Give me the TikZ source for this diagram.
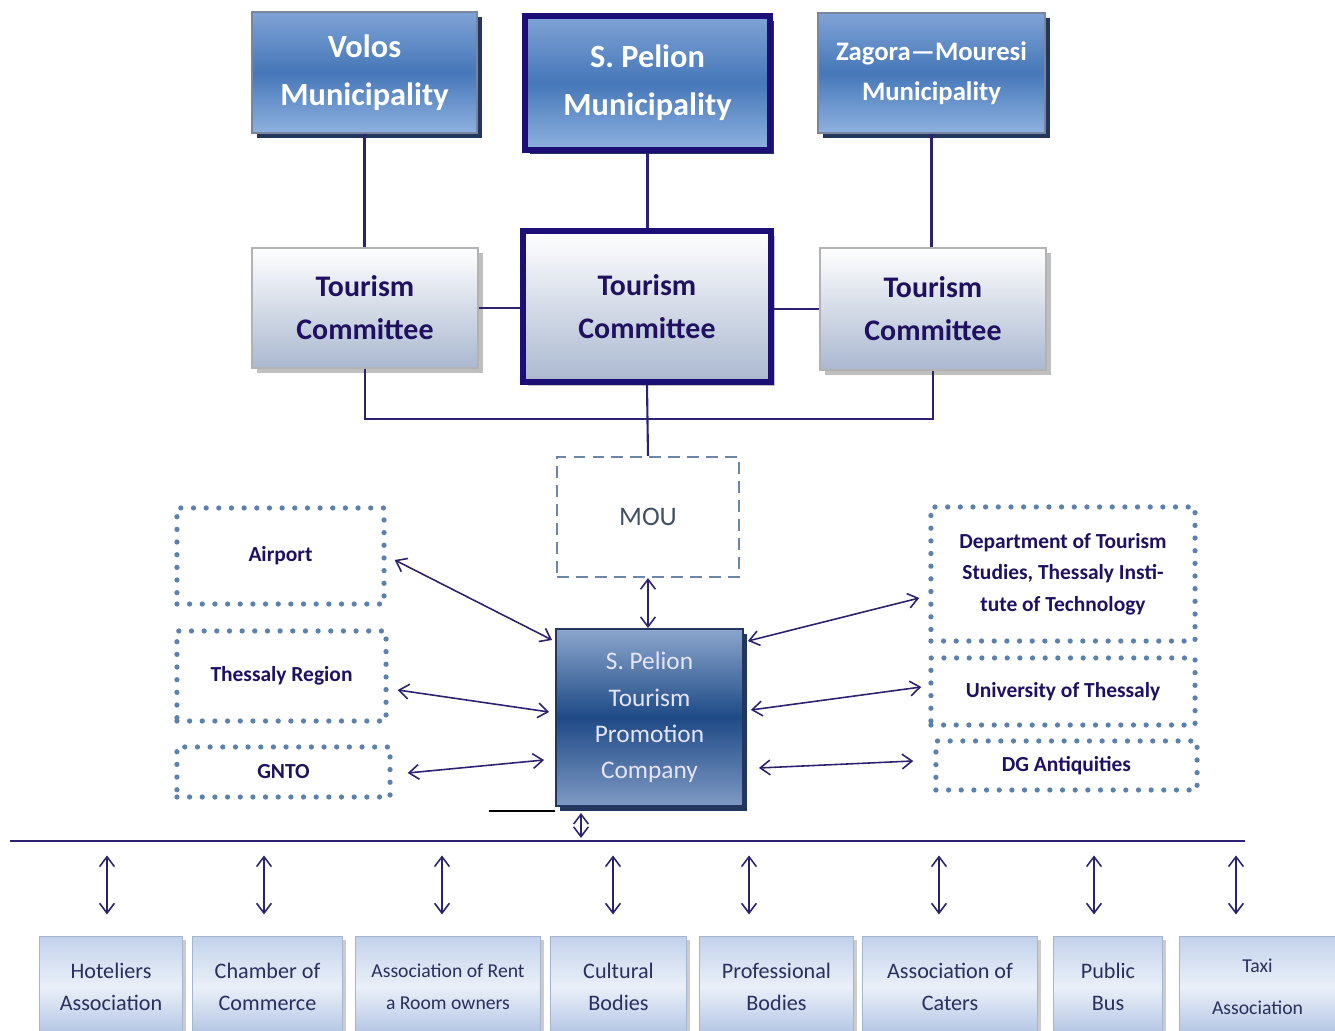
\documentclass[tikz,border=0pt]{standalone}
\usepackage{fontspec}
\setmainfont{Carlito}
\usepackage{tikz}
\usetikzlibrary{arrows.meta, positioning, calc, shadows}

\definecolor{munitop}{HTML}{7FA3D6}
\definecolor{munimid}{HTML}{4677B8}
\definecolor{munibot}{HTML}{8EB2E0}
\definecolor{munishd}{HTML}{22365E}
\definecolor{navybd}{HTML}{1C0F78}
\definecolor{comtop}{HTML}{FFFFFF}
\definecolor{combot}{HTML}{AAB8D0}
\definecolor{comtxt}{HTML}{1F1160}
\definecolor{spctop}{HTML}{8CA6CD}
\definecolor{spcmid}{HTML}{1E4A86}
\definecolor{spcbot}{HTML}{7F9AC4}
\definecolor{linkcol}{HTML}{2D2270}
\definecolor{dotcol}{HTML}{5B82AD}
\definecolor{dashcol}{HTML}{6B86A8}
\definecolor{orgtop}{HTML}{C3D2EB}
\definecolor{orgmid}{HTML}{EAF0F9}
\definecolor{orgbot}{HTML}{AFC2E2}
\definecolor{orgtxt}{HTML}{2A2F5C}

\tikzset{
  muni/.style={draw=munishd!60, line width=0.4pt, top color=munitop, bottom color=munibot,
    middle color=munimid, text=white, align=center, inner sep=0pt,
    drop shadow={shadow xshift=1.3pt, shadow yshift=-1.4pt, fill=munishd, opacity=1}},
  committee/.style={draw=gray!60, line width=0.4pt, top color=comtop, bottom color=combot,
    text=comtxt, align=center, inner sep=0pt,
    font=\fontsize{8.5}{12.3}\selectfont\bfseries,
    drop shadow={shadow xshift=1.3pt, shadow yshift=-1.3pt, fill=gray!50, opacity=1}},
  thickbox/.style={draw=navybd, line width=1.7pt},
  dotbox/.style={draw=dotcol, line width=1.5pt, line cap=round, dash pattern=on 0pt off 3.6pt,
    text=comtxt, align=center, inner sep=0pt, font=\fontsize{6.1}{9}\selectfont\bfseries},
  orgbox/.style={draw=orgbot!80!gray, line width=0.3pt, top color=orgtop, bottom color=orgbot,
    middle color=orgmid, text=orgtxt, align=center, inner sep=0pt,
    minimum height=1.0cm, font=\fontsize{6.3}{9.2}\selectfont,
    drop shadow={shadow xshift=1pt, shadow yshift=-1pt, fill=gray!40, opacity=1}},
  link/.style={draw=linkcol, line width=0.6pt},
  biarrow/.style={link, <->, line width=0.45pt}
}

\begin{document}
\begin{tikzpicture}[x=0.01cm, y=-0.01cm, >={Straight Barb[length=2.8pt,width=4.2pt]}]
\useasboundingbox (0,0) rectangle (1335,1031);
\clip (0,0) rectangle (1335,1031);

% municipalities
\node[muni, minimum width=2.25cm, minimum height=1.21cm,
  font=\fontsize{9.2}{13.7}\selectfont\bfseries] (volos) at (364.5,72.5) {Volos\\Municipality};
\node[muni, thickbox, minimum width=2.44cm, minimum height=1.33cm,
  font=\fontsize{9.2}{13.7}\selectfont\bfseries] (pelion) at (647.5,83) {S. Pelion\\Municipality};
\node[muni, minimum width=2.27cm, minimum height=1.2cm,
  font=\fontsize{7.6}{11.3}\selectfont\bfseries] (zagora) at (931.5,73) {Zagora---Mouresi\\Municipality};

% tourism committees
\node[committee, minimum width=2.26cm, minimum height=1.2cm] (tcvolos) at (365,308) {Tourism\\Committee};
\node[committee, thickbox, minimum width=2.47cm, minimum height=1.5cm] (tcpelion) at (647,306.5) {Tourism\\Committee};
\node[committee, minimum width=2.26cm, minimum height=1.22cm] (tczagora) at (933,309) {Tourism\\Committee};

\draw[link] (volos.south) -- (volos.south |- tcvolos.north);
\draw[link] (pelion.south) -- (pelion.south |- tcpelion.north);
\draw[link] (zagora.south) -- (zagora.south |- tczagora.north);
\draw[link] (tcvolos.east) -- (tcvolos.east -| tcpelion.west);
\draw[link] (tczagora.west -| tcpelion.east) -- (tczagora.west);

% MOU and company
\node[draw=dashcol, line width=0.6pt, dash pattern=on 3.4pt off 2pt, minimum width=1.82cm,
  minimum height=1.2cm, text=dashcol!60!black, font=\fontsize{7.6}{9}\selectfont] (mou) at (648,517) {MOU};
\node[draw=munishd, line width=0.5pt, top color=spctop, bottom color=spcbot, middle color=spcmid,
  minimum width=1.87cm, minimum height=1.77cm, inner sep=0pt, align=center, text=white!90!blue,
  font=\fontsize{7.2}{10.3}\selectfont,
  drop shadow={shadow xshift=1.2pt, shadow yshift=-1.3pt, fill=munishd, opacity=1}]
  (spc) at (649.5,717.5) {S. Pelion\\Tourism\\Promotion\\Company};

\coordinate (brk) at (647,419);
\draw[link] (tcvolos.south) |- (brk) -| (tczagora.south);
\draw[link] (tcpelion.south) -- (mou.north);
\draw[biarrow] (mou.south) -- (mou.south |- spc.north);

% partners left
\node[dotbox, minimum width=2.07cm, minimum height=0.96cm] (airport) at (280.5,556) {Airport};
\node[dotbox, minimum width=2.09cm, minimum height=0.9cm] (region) at (281.5,676) {Thessaly Region};
\node[dotbox, minimum width=2.13cm, minimum height=0.5cm] (gnto) at (283.5,772) {GNTO};

% partners right
\node[dotbox, minimum width=2.64cm, minimum height=1.34cm] (dept) at (1063,574)
  {Department of Tourism\\Studies, Thessaly Insti-\\tute of Technology};
\node[dotbox, minimum width=2.64cm, minimum height=0.67cm] (uth) at (1063,691.5) {University of Thessaly};
\node[dotbox, minimum width=2.61cm, minimum height=0.49cm] (dga) at (1066.5,765.5) {DG Antiquities};

\draw[biarrow] ($(airport.east)+(8,4)$) -- ($(spc.west)+(-3,-77.5)$);
\draw[biarrow] ($(region.east)+(9,14)$) -- ($(spc.west)+(-6,-5.5)$);
\draw[biarrow] ($(gnto.east)+(15,1)$) -- ($(spc.west)+(-11,42.5)$);
\draw[biarrow] ($(spc.east)+(4,-76.5)$) -- ($(dept.west)+(-9,24)$);
\draw[biarrow] ($(spc.east)+(7,-7.5)$) -- ($(uth.west)+(-7,-4.5)$);
\draw[biarrow] ($(spc.east)+(15,50.5)$) -- ($(dga.west)+(-20,-4.5)$);

% stakeholder line
\coordinate (busl) at (10,841);
\coordinate (busr) at (1245,841);
\coordinate (tap) at (581,841);
\coordinate (stray) at (489,811);
\draw[link, line width=0.7pt] (busl) -- (busr);
\draw[black, line width=0.4pt] (stray) -- (stray -| spc.west);
\draw[biarrow] ($(spc.south -| tap)+(0,6)$) -- ($(tap)+(0,-3)$);

% stakeholders
\node[orgbox, minimum width=1.42cm] (hotel) at (111,987) {Hoteliers\\Association};
\node[orgbox, minimum width=1.49cm] (chamber) at (267.5,987) {Chamber of\\Commerce};
\node[orgbox, minimum width=1.84cm, font=\fontsize{5.6}{9}\selectfont] (rent) at (448,987) {Association of Rent\\a Room owners};
\node[orgbox, minimum width=1.35cm] (cultural) at (618.5,987) {Cultural\\Bodies};
\node[orgbox, minimum width=1.53cm] (prof) at (776.5,987) {Professional\\Bodies};
\node[orgbox, minimum width=1.74cm] (caters) at (950,987) {Association of\\Caters};
\node[orgbox, minimum width=1.08cm] (bus) at (1108,987) {Public\\Bus};
\node[orgbox, minimum width=1.55cm, font=\fontsize{5.6}{12}\selectfont] (taxi) at (1257.5,987) {Taxi\\Association};

\foreach \n/\dx in {hotel/-4, chamber/-3.5, rent/-6, cultural/-5.5, prof/-27.5, caters/-11, bus/-14, taxi/-21.5}
  \draw[biarrow] ($(\n.north)+(\dx,-81)$) -- ($(\n.north)+(\dx,-22)$);

\end{tikzpicture}
\end{document}
